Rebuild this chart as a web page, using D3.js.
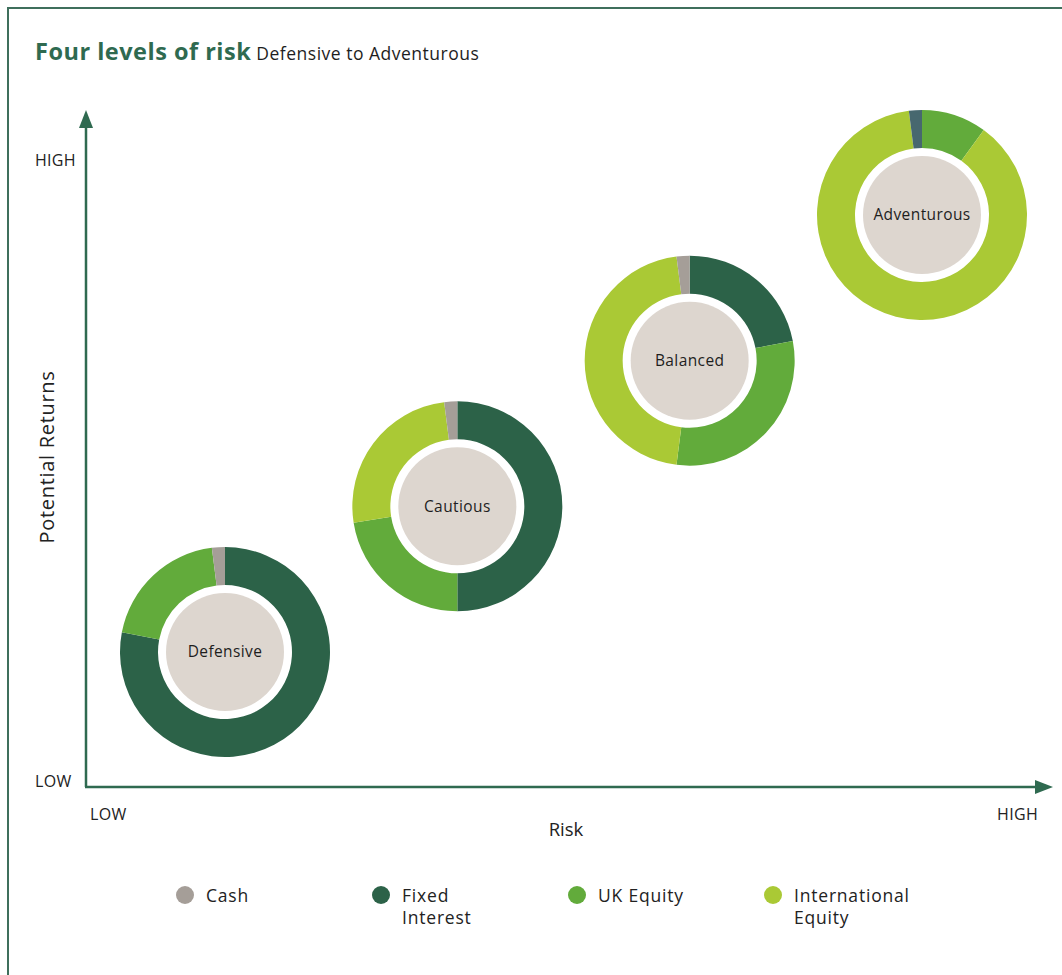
<!DOCTYPE html>
<html>
<head>
<meta charset="utf-8">
<script src="https://cdn.jsdelivr.net/npm/d3@7"></script>
<style>
  html, body { margin: 0; padding: 0; background: #ffffff; }
  svg { display: block; }
  text { font-family: "Open Sans", "Noto Sans", sans-serif; }
</style>
</head>
<body>
<svg id="chart" width="1062" height="975"></svg>
<script>
// ---------- DATA ----------
const portfolios = ["Defensive", "Cautious", "Balanced", "Adventurous"];
const assetClasses = ["Fixed Interest", "UK Equity", "International Equity", "Cash"]; // drawing order (clockwise from 12 o'clock)
const legendOrder = ["Cash", "Fixed Interest", "UK Equity", "International Equity"];
const legendLines = [["Cash"], ["Fixed", "Interest"], ["UK Equity"], ["International", "Equity"]];
const cash                = [2, 2, 2, 2];
const fixedInterest       = [78, 50, 22, 0];
const ukEquity            = [20, 22.5, 30, 10];
const internationalEquity = [0, 25.5, 46, 88];
const riskTicks = ["LOW", "HIGH"];
const returnTicks = ["LOW", "HIGH"];

// ---------- STYLE ----------
const colors = {
  "Cash": "#a59e98",
  "Fixed Interest": "#2c6248",
  "UK Equity": "#62ab3b",
  "International Equity": "#aac935"
};
const overrideColors = { "Adventurous|Cash": "#47686f" };
const green = "#2f6a50";
const beige = "#ddd6cf";

const svg = d3.select("#chart");

// frame
svg.append("rect").attr("x", 8).attr("y", 8).attr("width", 1200).attr("height", 1200)
  .attr("fill", "none").attr("stroke", "#3f6f5c").attr("stroke-width", 2);

// title
const title = svg.append("text").attr("x", 35).attr("y", 60);
title.append("tspan").text("Four levels of risk")
  .attr("font-size", 23.5).attr("font-weight", 700).attr("fill", green).attr("letter-spacing", 0.5);
title.append("tspan").text(" Defensive to Adventurous")
  .attr("font-size", 17.5).attr("fill", "#1e1e1e").attr("letter-spacing", 0.5);

// axes geometry
const axisX0 = 86, axisY0 = 787, axisYTop = 110, axisXEnd = 1053;
const x = d3.scalePoint().domain(portfolios).range([225, 922]);
const y = d3.scalePoint().domain(portfolios).range([652, 215]);

svg.append("line").attr("x1", axisX0).attr("y1", axisY0).attr("x2", axisX0).attr("y2", axisYTop + 14)
  .attr("stroke", green).attr("stroke-width", 2.5);
svg.append("path").attr("d", `M${axisX0},${axisYTop} L${axisX0 - 7},${axisYTop + 18} L${axisX0 + 7},${axisYTop + 18} Z`)
  .attr("fill", green);
svg.append("line").attr("x1", axisX0 - 1).attr("y1", axisY0).attr("x2", axisXEnd - 14).attr("y2", axisY0)
  .attr("stroke", green).attr("stroke-width", 2.5);
svg.append("path").attr("d", `M${axisXEnd},${axisY0} L${axisXEnd - 18},${axisY0 - 7} L${axisXEnd - 18},${axisY0 + 7} Z`)
  .attr("fill", green);

// axis tick labels
const retY = d3.scalePoint().domain(returnTicks).range([787, 166]);
svg.selectAll(".rt").data(returnTicks).join("text")
  .attr("x", 35).attr("y", d => retY(d)).attr("font-size", 16).attr("letter-spacing", 0.3)
  .attr("fill", "#222").text(d => d);
const riskX = d3.scalePoint().domain(riskTicks).range([90, 1038]);
svg.selectAll(".kt").data(riskTicks).join("text")
  .attr("x", d => riskX(d)).attr("y", 820).attr("font-size", 16).attr("letter-spacing", 0.3)
  .attr("fill", "#222")
  .attr("text-anchor", (d, i) => i === 0 ? "start" : "end").text(d => d);

svg.append("text").attr("x", 566).attr("y", 836).attr("text-anchor", "middle")
  .attr("font-size", 18.5).attr("fill", "#222").text("Risk");
svg.append("text").attr("transform", "translate(54,457) rotate(-90)").attr("text-anchor", "middle")
  .attr("font-size", 20).attr("fill", "#222").attr("letter-spacing", 0.7).text("Potential Returns");

// donuts
const seriesByName = {
  "Cash": cash,
  "Fixed Interest": fixedInterest,
  "UK Equity": ukEquity,
  "International Equity": internationalEquity
};
const pie = d3.pie().sort(null).value(d => d.value);
const arc = d3.arc().innerRadius(67).outerRadius(105);

portfolios.forEach((p, i) => {
  const g = svg.append("g").attr("transform", `translate(${x(p)},${y(p)})`);
  const segs = assetClasses.map(a => ({ name: a, value: seriesByName[a][i] }));
  g.selectAll("path").data(pie(segs)).join("path")
    .attr("d", arc)
    .attr("fill", d => overrideColors[p + "|" + d.data.name] || colors[d.data.name]);
  g.append("circle").attr("r", 59).attr("fill", beige);
  g.append("text").attr("text-anchor", "middle").attr("dy", "0.35em")
    .attr("font-size", 15.5).attr("letter-spacing", 0.4).attr("fill", "#1e1e1e").text(p);
});

// legend
const legX = d3.scalePoint().domain(legendOrder).range([185, 773]);
legendOrder.forEach((name, i) => {
  const g = svg.append("g").attr("transform", `translate(${legX(name)},895)`);
  g.append("circle").attr("r", 9).attr("fill", colors[name]);
  legendLines[i].forEach((ln, j) => {
    g.append("text").attr("x", 21).attr("y", 7 + j * 22).attr("font-size", 17.5).attr("fill", "#222")
      .attr("letter-spacing", 0.8).text(ln);
  });
});
</script>
</body>
</html>
